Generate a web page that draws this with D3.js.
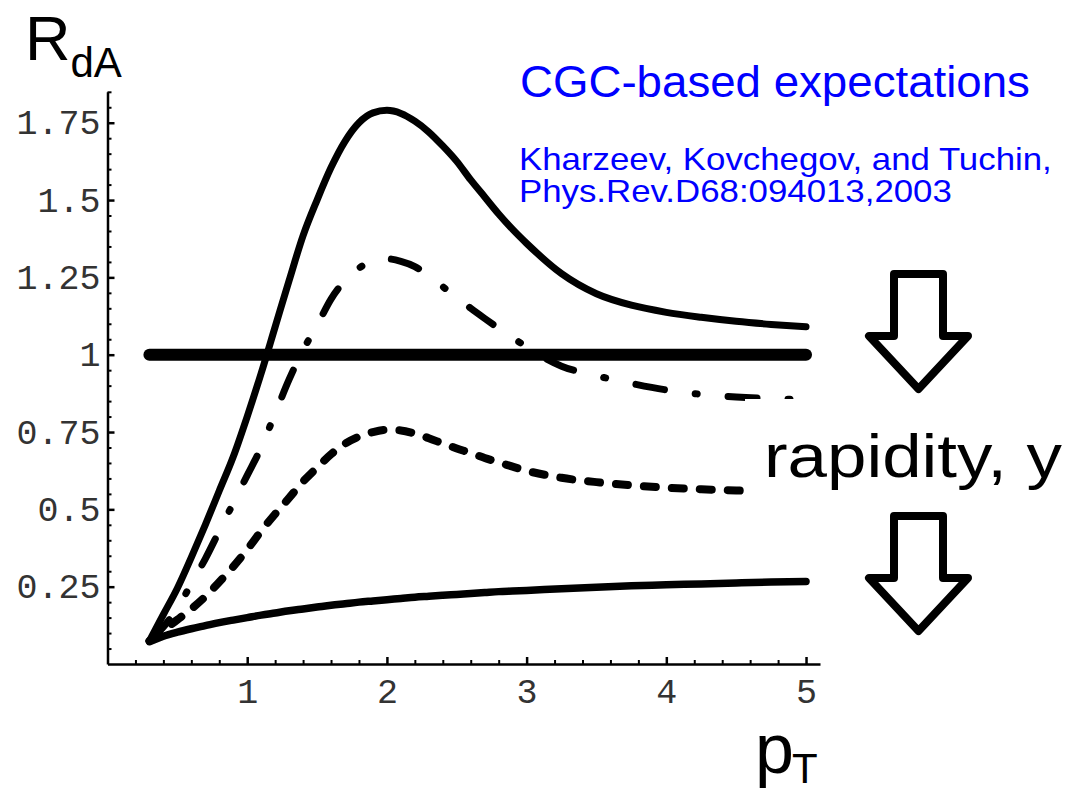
<!DOCTYPE html>
<html>
<head>
<meta charset="utf-8">
<script src="https://cdn.jsdelivr.net/npm/d3@7"></script>
<style>
  html, body { margin: 0; padding: 0; background: #fff; }
  svg { display: block; }
</style>
</head>
<body>
<div id="chart"></div>
<script>
// pT grid (GeV) and R_dA curves
const pT = [0.3, 0.4, 0.5, 0.6, 0.7, 0.8, 0.9, 1.0, 1.1, 1.2, 1.3, 1.4, 1.5, 1.6, 1.7, 1.8, 1.9, 2.0,
            2.1, 2.2, 2.3, 2.4, 2.5, 2.6, 2.7, 2.8, 2.9, 3.0, 3.25, 3.5, 3.75, 4.0, 4.25, 4.5, 4.75, 5.0];
const rdaSolidHigh = [0.075, 0.16, 0.245, 0.345, 0.45, 0.56, 0.67, 0.80, 0.94, 1.09, 1.24, 1.385, 1.50, 1.605, 1.69, 1.75, 1.782, 1.79,
            1.78, 1.755, 1.72, 1.675, 1.625, 1.565, 1.51, 1.455, 1.405, 1.36, 1.262, 1.197, 1.16, 1.137, 1.121, 1.108, 1.098, 1.09];
const rdaDashDot = [0.075, 0.12, 0.18, 0.26, 0.34, 0.43, 0.52, 0.61, 0.70, 0.81, 0.92, 1.015, 1.095, 1.18, 1.24, 1.28, 1.303, 1.31,
            1.302, 1.285, 1.255, 1.22, 1.185, 1.15, 1.117, 1.085, 1.055, 1.025, 0.963, 0.932, 0.907, 0.886, 0.872, 0.863, 0.858, 0.855];
const rdaDashed = [0.075, 0.11, 0.143, 0.178, 0.218, 0.265, 0.315, 0.37, 0.43, 0.485, 0.537, 0.59, 0.635, 0.678, 0.712, 0.735, 0.75, 0.757,
            0.755, 0.745, 0.73, 0.713, 0.697, 0.682, 0.666, 0.652, 0.638, 0.625, 0.602, 0.588, 0.578, 0.57, 0.565, 0.561, 0.558, 0.555];
const rdaSolidLow = [0.072, 0.09, 0.103, 0.114, 0.124, 0.134, 0.142, 0.15, 0.158, 0.165, 0.172, 0.178, 0.184, 0.19, 0.195, 0.2, 0.204, 0.208,
            0.212, 0.216, 0.219, 0.222, 0.225, 0.228, 0.231, 0.234, 0.236, 0.238, 0.243, 0.248, 0.253, 0.256, 0.259, 0.262, 0.265, 0.267];
const refX = [0.3, 5.0];
const refY = [1, 1];
const xTicks = [1, 2, 3, 4, 5];
const yTicks = [0.25, 0.5, 0.75, 1, 1.25, 1.5, 1.75];

const width = 1074, height = 794;
const svg = d3.select("#chart").append("svg")
    .attr("width", width)
    .attr("height", height);

var x = d3.scaleLinear().domain([0, 5.1]).range([107.5, 820]),
    y = d3.scaleLinear().domain([0, 1.85]).range([664, 91.8]);

const monoFont = "'Liberation Mono', 'DejaVu Sans Mono', monospace";
const sansFont = "'Liberation Sans', Arial, sans-serif";

// minor ticks first, then major ticks + labels
const xMinor = d3.range(0.2, 5.01, 0.2).filter(v => Math.abs(v - Math.round(v)) > 0.01);
const yMinor = d3.range(0.05, 1.86, 0.05).filter(v => Math.abs(v * 4 - Math.round(v * 4)) > 0.01);

svg.append("g")
    .attr("transform", "translate(0," + y(0) + ")")
    .call(d3.axisBottom(x).tickValues(xMinor).tickSize(-4).tickSizeOuter(0).tickFormat(""))
    .call(g => g.select(".domain").remove())
    .selectAll("line").attr("stroke-width", 2);

svg.append("g")
    .attr("transform", "translate(" + x(0) + ",0)")
    .call(d3.axisLeft(y).tickValues(yMinor).tickSize(-4).tickSizeOuter(0).tickFormat(""))
    .call(g => g.select(".domain").remove())
    .selectAll("line").attr("stroke-width", 2);

const xAxis = svg.append("g")
    .attr("transform", "translate(0," + y(0) + ")")
    .call(d3.axisBottom(x).tickValues(xTicks).tickSize(-7).tickSizeOuter(0).tickPadding(14)
        .tickFormat(d3.format("d")));
xAxis.select(".domain").attr("stroke-width", 2.5);
xAxis.selectAll(".tick line").attr("stroke-width", 2.5);
xAxis.selectAll("text")
    .attr("font-family", monoFont)
    .attr("font-size", "35px")
    .attr("fill", "#333");

const yAxis = svg.append("g")
    .attr("transform", "translate(" + x(0) + ",0)")
    .call(d3.axisLeft(y).tickValues(yTicks).tickSize(-7).tickSizeOuter(0).tickPadding(7)
        .tickFormat(d => String(d)));
yAxis.select(".domain").attr("stroke-width", 2.5);
yAxis.selectAll(".tick line").attr("stroke-width", 2.5);
yAxis.selectAll("text")
    .attr("font-family", monoFont)
    .attr("font-size", "35px")
    .attr("fill", "#333");

// curves
const line = d3.line()
    .x(d => x(d[0]))
    .y(d => y(d[1]))
    .curve(d3.curveMonotoneX);

const series = [
    { vals: rdaSolidHigh, dash: null, w: 7 },
    { vals: rdaDashDot, dash: "29,31,2,31", w: 7 },
    { vals: rdaDashed, dash: "12,16", w: 8 },
    { vals: rdaSolidLow, dash: null, w: 7.5 }
];

svg.append("path")
    .datum(refX.map((v, i) => [v, refY[i]]))
    .attr("d", d3.line().x(d => x(d[0])).y(d => y(d[1])))
    .attr("fill", "none")
    .attr("stroke", "#000")
    .attr("stroke-width", 12)
    .attr("stroke-linecap", "round");

series.forEach(s => {
    svg.append("path")
        .datum(pT.map((v, i) => [v, s.vals[i]]))
        .attr("d", line)
        .attr("fill", "none")
        .attr("stroke", "#000")
        .attr("stroke-width", s.w)
        .attr("stroke-linecap", "round")
        .attr("stroke-linejoin", "round")
        .attr("stroke-dasharray", s.dash);
});

// white label box that covers the right end of the curves
svg.append("rect")
    .attr("x", 745).attr("y", 399)
    .attr("width", 329).attr("height", 106)
    .attr("fill", "#fff");

// stretch a text horizontally so that it spans the given width
function fitX(t, targetW) {
    const w = t.node().getComputedTextLength();
    const x0 = +t.attr("x");
    const k = targetW / w;
    t.attr("transform", `translate(${x0},0) scale(${k},1) translate(${-x0},0)`);
    return k;
}

// axis titles
const rTitle = svg.append("text").attr("x", 25).attr("y", 60)
    .attr("font-family", sansFont).attr("font-size", "63px").text("R");
rTitle.append("tspan").attr("font-size", "42px").attr("dy", 17).text("dA");

const pTitle = svg.append("text").attr("x", 755).attr("y", 773)
    .attr("font-family", sansFont).attr("font-size", "70px").text("p");
pTitle.append("tspan").attr("font-size", "42px").attr("dy", 10).attr("dx", -2).text("T");

// annotations
const t1 = svg.append("text").attr("x", 520).attr("y", 97)
    .attr("font-family", sansFont).attr("font-size", "44px").attr("fill", "#0000ff")
    .text("CGC-based expectations");
fitX(t1, 510);

const t2 = svg.append("text").attr("x", 519).attr("y", 170)
    .attr("font-family", sansFont).attr("font-size", "31px").attr("fill", "#0000ff")
    .text("Kharzeev, Kovchegov, and Tuchin,");
const k2 = fitX(t2, 533);

const t3 = svg.append("text").attr("x", 519).attr("y", 202)
    .attr("font-family", sansFont).attr("font-size", "31px").attr("fill", "#0000ff")
    .text("Phys.Rev.D68:094013,2003");
t3.attr("transform", `translate(519,0) scale(${k2},1) translate(-519,0)`);

const t4 = svg.append("text").attr("x", 764).attr("y", 477)
    .attr("font-family", sansFont).attr("font-size", "61px").attr("fill", "#000")
    .text("rapidity, y");
fitX(t4, 298);

// hollow down arrows
function downArrow(top, head, tip) {
    const cx = 918.5, sw = 24.5, hw = 49.5;
    const pts = [[cx - sw, top], [cx + sw, top], [cx + sw, head], [cx + hw, head],
                 [cx, tip], [cx - hw, head], [cx - sw, head]];
    svg.append("polygon")
        .attr("points", pts.map(p => p.join(",")).join(" "))
        .attr("fill", "#fff")
        .attr("stroke", "#000")
        .attr("stroke-width", 8)
        .attr("stroke-linejoin", "round");
}
downArrow(274, 336, 389);
downArrow(516, 578, 631);
</script>
</body>
</html>
